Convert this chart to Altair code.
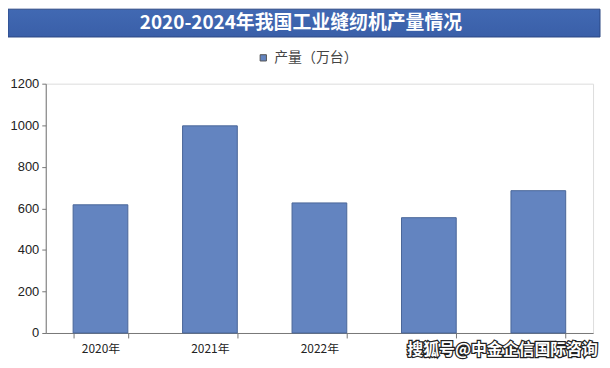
import altair as alt
import pandas as pd

years = ["2020年", "2021年", "2022年", "2023年", "2024年"]
output = [617, 997, 626, 555, 685]
series_name = "产量（万台）"
title_text = "2020-2024年我国工业缝纫机产量情况"
watermark = "搜狐号@中金企信国际咨询"
y_ticks = [0, 200, 400, 600, 800, 1000, 1200]
hidden_labels = ["2023年", "2024年"]  # covered by the watermark in the reference

df = pd.DataFrame({"year": years, "value": output, "series": [series_name] * len(years)})

W, H = 551, 251
FONT = "Liberation Sans"
CJK = "Noto Sans CJK SC"

hide_expr = " || ".join([f"datum.value == '{h}'" for h in hidden_labels])

bars = alt.Chart(df).mark_bar(stroke="#4a6698", strokeWidth=1).encode(
    x=alt.X("year:N", sort=years, title=None,
            scale=alt.Scale(paddingInner=0.5, paddingOuter=0.25),
            axis=alt.Axis(labelAngle=0, labelFont=CJK, labelFontSize=12, labelColor="#222",
                          labelExpr=f"({hide_expr}) ? '' : datum.label",
                          labelPadding=6, tickBand="extent", tickSize=5, tickColor="#777",
                          domainColor="#777", grid=False)),
    y=alt.Y("value:Q", title=None,
            scale=alt.Scale(domain=[0, 1200], nice=False),
            axis=alt.Axis(values=y_ticks, format="d", labelFont=FONT, labelFontSize=13,
                          labelColor="#222", tickSize=4, tickColor="#777", domainColor="#777",
                          grid=False, labelPadding=3)),
    color=alt.Color("series:N", scale=alt.Scale(range=["#6384c0"]),
                    legend=alt.Legend(title=None, orient="none", legendX=212, legendY=-33,
                                      symbolType="square", symbolSize=40,
                                      symbolStrokeColor="#555", symbolStrokeWidth=1,
                                      labelFont=CJK, labelFontSize=14, labelColor="#444")),
)

tdf = pd.DataFrame({"t": [title_text]})
banner = alt.Chart(tdf).mark_rect(
    color=alt.Gradient(gradient="linear", x1=0, y1=0, x2=0, y2=1,
                       stops=[alt.GradientStop(color="#4169b3", offset=0),
                              alt.GradientStop(color="#3a5fa8", offset=1)]),
    stroke="#2b4783", strokeWidth=1,
).encode(x=alt.value(-38), x2=alt.value(558), y=alt.value(-75), y2=alt.value(-47))

title = alt.Chart(tdf).mark_text(font=CJK, fontSize=19, fontWeight="bold", color="white",
                                 align="center", baseline="middle").encode(
    text="t:N", x=alt.value(257), y=alt.value(-61))

wdf = pd.DataFrame({"t": [watermark]})
wm_stroke = alt.Chart(wdf).mark_text(font=CJK, fontSize=16, fontWeight="bold", color="#222",
                                     stroke="#222", strokeWidth=2.5, align="left",
                                     baseline="middle").encode(
    text="t:N", x=alt.value(364), y=alt.value(17 + H))
wm_fill = alt.Chart(wdf).mark_text(font=CJK, fontSize=16, fontWeight="bold", color="white",
                                   align="left", baseline="middle").encode(
    text="t:N", x=alt.value(364), y=alt.value(17 + H))

chart = alt.layer(banner, title, bars, wm_stroke, wm_fill).properties(
    width=W, height=H,
    autosize=alt.AutoSizeParams(type="none"),
    padding={"left": 38, "top": 75, "right": 9, "bottom": 26},
).configure_view(stroke=None).configure(background="white")

chart.save("out.html", embed_options={"renderer": "svg", "actions": False})
